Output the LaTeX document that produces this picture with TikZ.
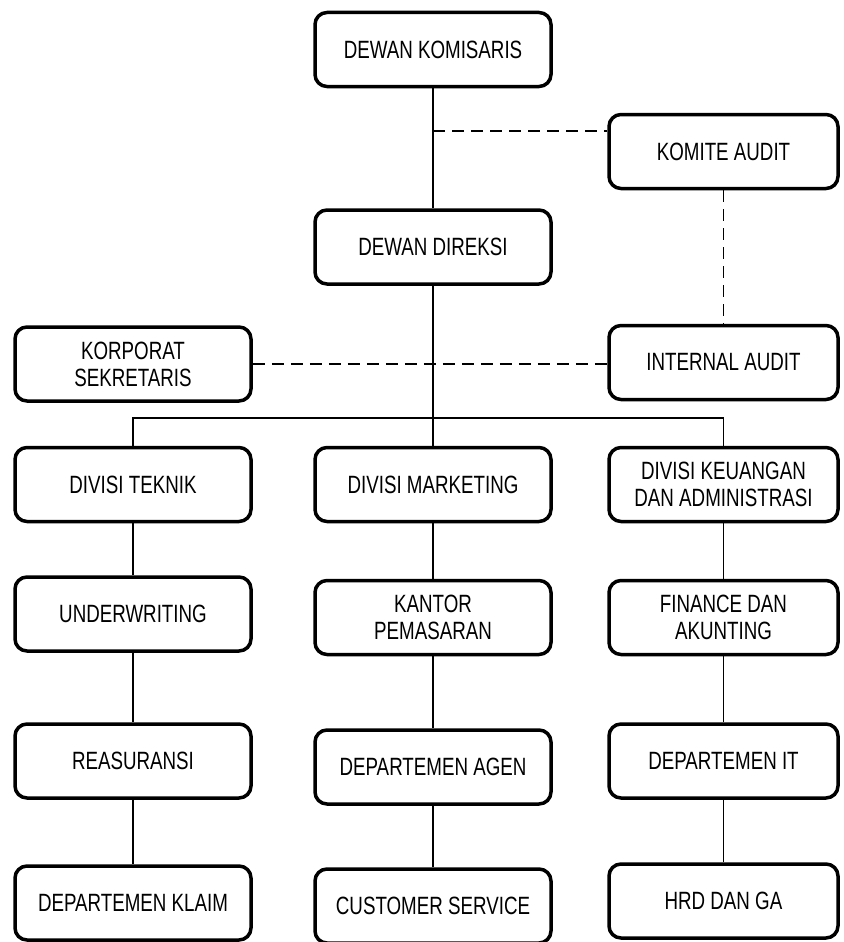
\documentclass[tikz,border=0pt]{standalone}
\usepackage{fontspec}
\setmainfont[FakeStretch=0.75]{Liberation Sans}
\usetikzlibrary{calc}
\tikzset{
  unit/.style = {
    rectangle, rounded corners=12pt, draw, line width=3.5pt,
    minimum width=236pt, minimum height=74pt, inner sep=2pt,
    align=center, font=\fontsize{25}{27}\selectfont
  },
  unit narrow/.style = {unit, minimum width=229pt},
  line link/.style = {line width=1.5pt},
  staff link/.style = {line width=1.5pt, dash pattern=on 12pt off 7pt},
}

\begin{document}
\begin{tikzpicture}[x=1pt, y=-1pt]
\useasboundingbox (0,0) rectangle (843,942);

% board and directors
\node(komisaris)[unit] at (433,49.5) {DEWAN KOMISARIS};
\node(komite)[unit narrow] at (723.5,151.5) {KOMITE AUDIT};
\node(direksi)[unit] at (433,247) {DEWAN DIREKSI};
\node(korporat)[unit] at (133,364) {KORPORAT\\SEKRETARIS};
\node(internal)[unit narrow] at (723.5,362.5) {INTERNAL AUDIT};

% divisions
\node(teknik)[unit] at (133,484.5) {DIVISI TEKNIK};
\node(marketing)[unit] at (433,484.5) {DIVISI MARKETING};
\node(keuangan)[unit narrow] at (723.5,484.5) {DIVISI KEUANGAN\\DAN ADMINISTRASI};

% departments
\node(underwriting)[unit] at (133,614) {UNDERWRITING};
\node(kantor)[unit] at (433,617.5) {KANTOR\\PEMASARAN};
\node(finance)[unit narrow] at (723.5,617.5) {FINANCE DAN\\AKUNTING};

\node(reasuransi)[unit] at (133,761) {REASURANSI};
\node(agen)[unit] at (433,767) {DEPARTEMEN AGEN};
\node(it)[unit narrow] at (723.5,761) {DEPARTEMEN IT};

\node(klaim)[unit] at (133,903) {DEPARTEMEN KLAIM};
\node(cs)[unit] at (433,906) {CUSTOMER SERVICE};
\node(hrd)[unit narrow] at (723.5,901) {HRD DAN GA};

% lines of command
\coordinate (bus) at (433,418);
\coordinate (audit tap) at (433,131);
\draw[line link] (komisaris.south) -- (direksi.north);
\draw[line link] (direksi.south) -- (marketing.north);
\draw[line link] (teknik.north) |- (bus) -| (keuangan.north);
\foreach \upper/\lower in {teknik/underwriting, underwriting/reasuransi, reasuransi/klaim,
                           marketing/kantor, kantor/agen, agen/cs,
                           keuangan/finance, finance/it, it/hrd}
  \draw[line link] (\upper.south) -- (\lower.north);

% staff lines
\draw[staff link] (audit tap) -- (audit tap -| komite.west);
\draw[staff link] (komite.south) -- (internal.north);
\draw[staff link] (korporat.east) -- (korporat.east -| internal.west);

\end{tikzpicture}
\end{document}
